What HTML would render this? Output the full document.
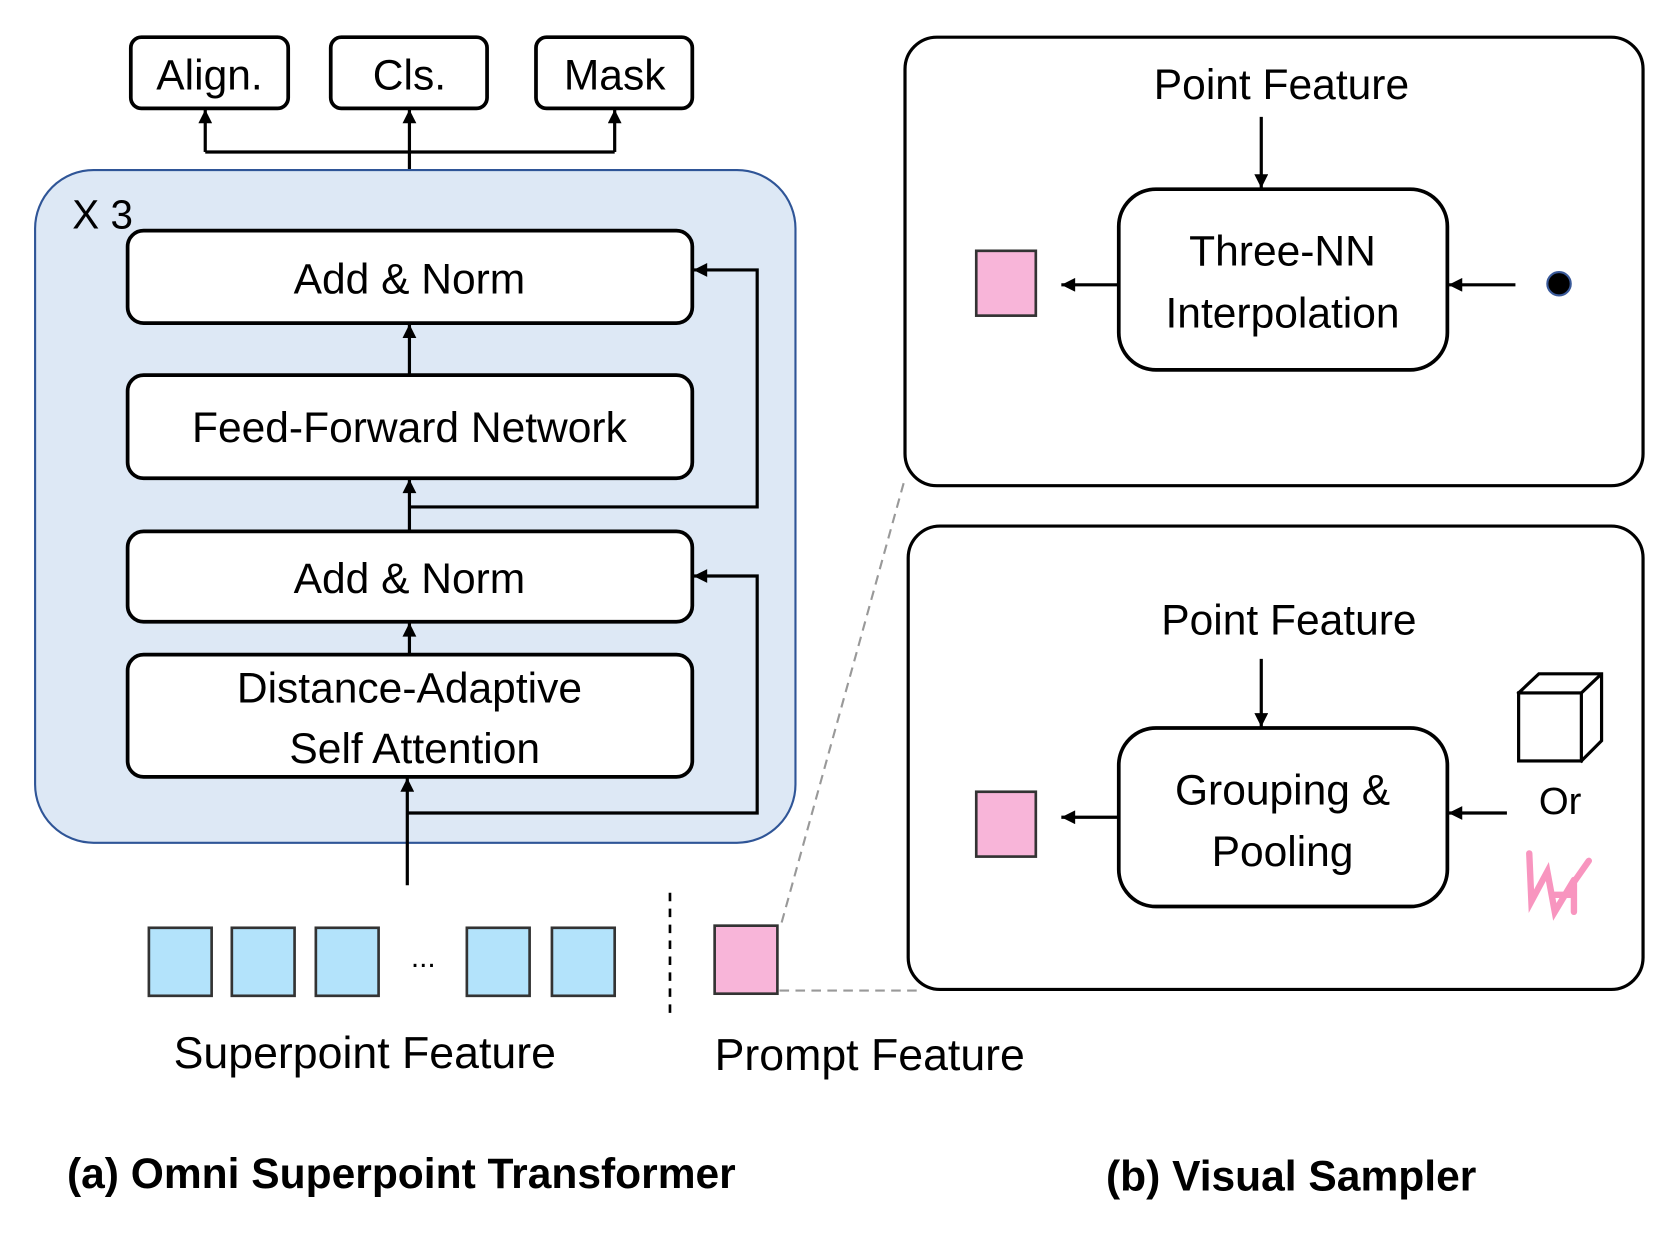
<!DOCTYPE html>
<html><head><meta charset="utf-8"><style>html,body{margin:0;padding:0;background:#fff}svg{display:block}</style></head><body>
<svg width="1659" height="1236" viewBox="0 0 1560 1163" preserveAspectRatio="none" xmlns="http://www.w3.org/2000/svg" font-family="Liberation Sans, sans-serif">
<defs>
<marker id="b" viewBox="0 0 10 10" markerWidth="15" markerHeight="13" refX="10" refY="5" orient="auto" markerUnits="userSpaceOnUse"><path d="M0,0 L10,5 L0,10z" fill="#000"/></marker></defs>
<g fill="#fff" stroke="#000" stroke-width="3.5">
<rect x="123" y="35" width="148" height="67" rx="10"/><rect x="311" y="35" width="147" height="67" rx="10"/><rect x="504" y="35" width="147" height="67" rx="10"/></g>
<g font-size="40" text-anchor="middle"><text x="197" y="84">Align.</text><text x="385" y="84">Cls.</text><text x="578" y="84">Mask</text></g>
<g fill="none" stroke="#000" stroke-width="3">
<path d="M193 143 H578"/><path d="M193 143 V103" marker-end="url(#b)"/><path d="M578 143 V103" marker-end="url(#b)"/><path d="M385 217 V103" marker-end="url(#b)"/></g>
<rect x="33" y="160" width="715" height="633" rx="55" fill="#dde8f5" stroke="#2f5597" stroke-width="2"/>
<text x="68" y="215" font-size="38">X 3</text>
<g fill="#fff" stroke="#000" stroke-width="3.5">
<rect x="120" y="217" width="531" height="87" rx="15"/><rect x="120" y="353" width="531" height="97" rx="15"/><rect x="120" y="500" width="531" height="85" rx="15"/><rect x="120" y="616" width="531" height="115" rx="15"/></g>
<g font-size="40" text-anchor="middle"><text x="385" y="276">Add &amp; Norm</text><text x="385" y="416">Feed-Forward Network</text><text x="385" y="558">Add &amp; Norm</text><text x="385" y="661">Distance-Adaptive</text><text x="390" y="718">Self Attention</text></g>
<g fill="none" stroke="#000" stroke-width="3">
<path d="M385 353 V305" marker-end="url(#b)"/><path d="M385 500 V451" marker-end="url(#b)"/><path d="M385 616 V586" marker-end="url(#b)"/><path d="M383 833 V732" marker-end="url(#b)"/>
<path d="M385 477 H712 V254 H652" marker-end="url(#b)"/><path d="M383 765 H712 V542 H652" marker-end="url(#b)"/></g>
<g fill="#b3e3fb" stroke="#333" stroke-width="2.5">
<rect x="140" y="873" width="59" height="64"/><rect x="218" y="873" width="59" height="64"/><rect x="297" y="873" width="59" height="64"/><rect x="439" y="873" width="59" height="64"/><rect x="519" y="873" width="59" height="64"/></g>
<text x="398" y="910" font-size="28" text-anchor="middle">...</text>
<path d="M630 840 V958" stroke="#000" stroke-width="2.5" stroke-dasharray="8,7"/>
<g stroke="#999" stroke-width="2" stroke-dasharray="9,6" fill="none"><path d="M735 868 L851 450"/><path d="M733 932 H862"/></g>
<rect x="672" y="871" width="59" height="64" fill="#f8b5d9" stroke="#333" stroke-width="2.5"/>
<g font-size="42"><text x="343" y="1005" text-anchor="middle">Superpoint Feature</text><text x="672" y="1007">Prompt Feature</text></g>
<g font-size="40" font-weight="bold"><text x="63" y="1118">(a) Omni Superpoint Transformer</text><text x="1040" y="1120">(b) Visual Sampler</text></g>
<g fill="#fff" stroke="#000" stroke-width="3"><rect x="851" y="35" width="694" height="422" rx="30"/><rect x="854" y="495" width="691" height="436" rx="30"/></g>
<g fill="#fff" stroke="#000" stroke-width="3.5"><rect x="1052" y="178" width="309" height="170" rx="35"/><rect x="1052" y="685" width="309" height="168" rx="35"/></g>
<g font-size="40" text-anchor="middle"><text x="1205" y="93">Point Feature</text><text x="1206" y="250">Three-NN</text><text x="1206" y="308">Interpolation</text>
<text x="1212" y="597">Point Feature</text><text x="1206" y="757">Grouping &amp;</text><text x="1206" y="815">Pooling</text><text x="1467" y="766" font-size="36">Or</text></g>
<g fill="#f8b5d9" stroke="#333" stroke-width="2.5"><rect x="918" y="236" width="56" height="61"/><rect x="918" y="745" width="56" height="61"/></g>
<circle cx="1466" cy="267" r="11" fill="#000" stroke="#3a5a9a" stroke-width="2"/>
<g fill="none" stroke="#000" stroke-width="3">
<path d="M1186 110 V177" marker-end="url(#b)"/><path d="M1052 268 H998" marker-end="url(#b)"/><path d="M1425 268 H1362" marker-end="url(#b)"/>
<path d="M1186 620 V684" marker-end="url(#b)"/><path d="M1052 769 H998" marker-end="url(#b)"/><path d="M1417 765 H1362" marker-end="url(#b)"/></g>
<g fill="#fff" stroke="#000" stroke-width="3"><path d="M1428 652 L1447 634 L1506 634 L1506 697 L1487 716 Z"/><rect x="1428" y="652" width="59" height="64"/><path d="M1487 652 L1506 634"/></g>
<g fill="none" stroke="#f78ab8" stroke-width="6" stroke-linecap="round" opacity="0.9"><path d="M1438 803 L1440 848 L1455 820 L1462 858 L1480 828 M1462 842 L1480 842 M1480 858 L1480 830 L1494 810"/></g>
</svg>
</body></html>
